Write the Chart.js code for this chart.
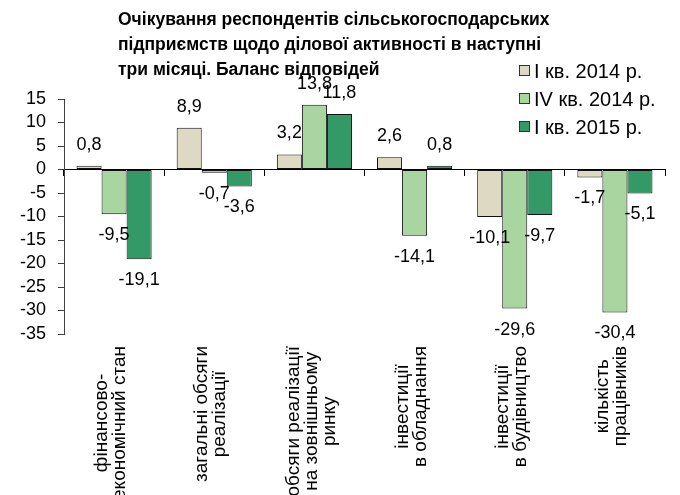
<!DOCTYPE html>
<html>
<head>
<meta charset="utf-8">
<script src="https://cdn.jsdelivr.net/npm/chart.js@4.4.1/dist/chart.umd.min.js"></script>
<style>
  html, body { margin: 0; padding: 0; background: #fff; }
  #wrap { width: 680px; height: 495px; }
</style>
</head>
<body>
<div id="wrap"><canvas id="myChart" width="680" height="495"></canvas></div>
<script>
const titleLines = [
  'Очікування респондентів сільськогосподарських',
  'підприємств щодо ділової активності в наступні',
  'три місяці. Баланс відповідей',
];
const categories = [
  ['фінансово-', 'економічний стан'],
  ['загальні обсяги', 'реалізації'],
  ['обсяги реалізації', 'на зовнішньому', 'ринку'],
  ['інвестиції', 'в обладнання'],
  ['інвестиції', 'в будівництво'],
  ['кількість', 'працівників'],
];
const seriesNames = ['I кв. 2014 р.', 'IV кв. 2014 р.', 'I кв. 2015 р.'];
const q1y2014 = [0.8, 8.9, 3.2, 2.6, -10.1, -1.7];
const q4y2014 = [-9.5, -0.7, 13.8, -14.1, -29.6, -30.4];
const q1y2015 = [-19.1, -3.6, 11.8, 0.8, -9.7, -5.1];
const yTicks = [15, 10, 5, 0, -5, -10, -15, -20, -25, -30, -35];

const colors = ['#ddd9c3', '#a8d5a0', '#339966'];
const font = '"Liberation Sans", Arial, sans-serif';

// title, legend, value labels and category labels drawn on the canvas
const extras = {
  id: 'extras',
  afterDatasetsDraw(chart) {
    const ctx = chart.ctx;
    ctx.save();
    ctx.fillStyle = '#000';
    ctx.textBaseline = 'middle';

    // value labels
    ctx.font = '18px ' + font;
    ctx.textAlign = 'center';
    chart.data.datasets.forEach((ds, di) => {
      chart.getDatasetMeta(di).data.forEach((bar, i) => {
        const v = ds.data[i];
        const y = v >= 0 ? bar.y - 21 : bar.y + 21;
        ctx.fillText(v.toFixed(1).replace('.', ','), bar.x, y);
      });
    });

    // title
    ctx.font = 'bold 17.5px ' + font;
    ctx.textAlign = 'left';
    titleLines.forEach((t, i) => ctx.fillText(t, 118, 20 + i * 25));

    // legend
    ctx.font = '20px ' + font;
    seriesNames.forEach((name, i) => {
      const y = 71 + i * 28;
      ctx.fillStyle = colors[i];
      ctx.fillRect(519.5, y - 5.5, 10, 10);
      ctx.strokeStyle = '#333';
      ctx.lineWidth = 1;
      ctx.strokeRect(519.5, y - 5.5, 10, 10);
      ctx.fillStyle = '#000';
      ctx.fillText(name, 534, y + 1);
    });

    // category labels, rotated, lines centred on each other
    const xs = chart.scales.x;
    ctx.font = '19px ' + font;
    ctx.textAlign = 'center';
    const lineH = 18;
    categories.forEach((lines, i) => {
      const cx = xs.getPixelForValue(i) - 3;
      const maxW = Math.max(...lines.map((l) => ctx.measureText(l).width));
      const cy = 346 + maxW / 2;
      lines.forEach((l, j) => {
        const off = (j - (lines.length - 1) / 2) * lineH;
        ctx.save();
        ctx.translate(cx + off, cy);
        ctx.rotate(-Math.PI / 2);
        ctx.fillText(l, 0, 0);
        ctx.restore();
      });
    });
    ctx.restore();
  },
};

new Chart(document.getElementById('myChart'), {
  type: 'bar',
  data: {
    labels: categories.map((c) => c.join(' ')),
    datasets: [
      { label: seriesNames[0], data: q1y2014, backgroundColor: colors[0] },
      { label: seriesNames[1], data: q4y2014, backgroundColor: colors[1] },
      { label: seriesNames[2], data: q1y2015, backgroundColor: colors[2] },
    ].map((d) => ({ ...d, borderColor: '#111', borderWidth: 1, borderSkipped: false })),
  },
  options: {
    responsive: false,
    animation: false,
    datasets: { bar: { categoryPercentage: 0.75, barPercentage: 1 } },
    layout: { padding: { left: 0, top: 99, right: 15, bottom: 161 } },
    plugins: { legend: { display: false }, title: { display: false }, tooltip: { enabled: false } },
    scales: {
      x: {
        position: { y: 0 },
        offset: true,
        ticks: { display: false },
        grid: { display: true, offset: true, drawOnChartArea: false, tickLength: 6, color: '#000' },
        border: { display: true, color: '#000', width: 1 },
      },
      y: {
        min: -35,
        max: 15,
        afterFit: (s) => { s.width = 64; },
        afterBuildTicks: (s) => { s.ticks = yTicks.map((v) => ({ value: v })); },
        ticks: { color: '#000', padding: 12, autoSkip: false, font: { family: font, size: 18 } },
        grid: { drawOnChartArea: false, tickLength: 6, color: '#404040' },
        border: { display: true, color: '#404040', width: 1 },
      },
    },
  },
  plugins: [extras],
});
</script>
</body>
</html>
